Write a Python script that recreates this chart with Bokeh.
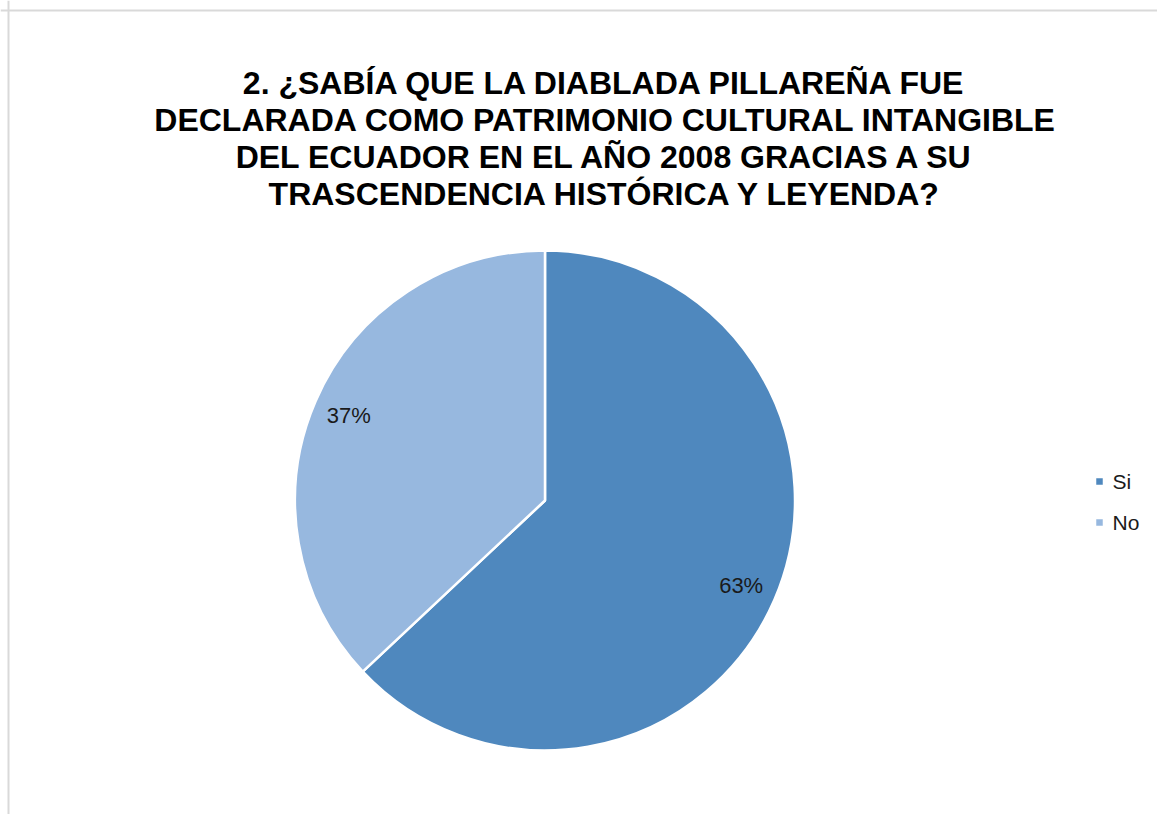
import math
from bokeh.plotting import figure
from bokeh.models import ColumnDataSource, Span
from bokeh.core.properties import value
from bokeh.embed import file_html
from bokeh.resources import INLINE

# ---- data ----
categories = ["Si", "No"]
percents = [63, 37]
colors = ["#4F88BE", "#97B8DF"]
title_lines = [
    "2. ¿SABÍA QUE LA DIABLADA PILLAREÑA FUE",
    "DECLARADA COMO PATRIMONIO CULTURAL INTANGIBLE",
    "DEL ECUADOR EN EL AÑO 2008 GRACIAS A SU",
    "TRASCENDENCIA HISTÓRICA Y LEYENDA?",
]

# ---- layout (pixel-like data units, y up) ----
W, H = 1157, 814
CX, CY, R = 544.5, 314, 250
FONT = "Liberation Sans"

p = figure(width=W, height=H, x_range=(0, W), y_range=(0, H),
           output_backend="svg", toolbar_location=None, min_border=0)
p.axis.visible = False
p.grid.visible = False
p.outline_line_color = None
p.background_fill_color = "white"
p.border_fill_color = "white"

# frame (top and left visible edges)
p.add_layout(Span(location=H - 10, dimension="width", line_color="#D9D9D9", line_width=2))
p.add_layout(Span(location=8, dimension="height", line_color="#D9D9D9", line_width=2))

# pie wedges, clockwise from 12 o'clock
total = sum(percents)
starts, ends, mids = [], [], []
a = math.pi / 2
for v in percents:
    da = 2 * math.pi * v / total
    starts.append(a)
    ends.append(a - da)
    mids.append(a - da / 2)
    a -= da
src = ColumnDataSource(dict(cat=categories, pct=percents, color=colors,
                            start=starts, end=ends))
p.wedge(x=CX, y=CY, radius=R, start_angle="end", end_angle="start",
        fill_color="color", line_color="white", line_width=2.5, source=src)

# data labels
lab = ColumnDataSource(dict(
    x=[CX + 0.855 * R * math.cos(m) for m in mids],
    y=[CY + 0.855 * R * math.sin(m) for m in mids],
    t=[f"{v}%" for v in percents]))
p.text(x="x", y="y", text="t", source=lab, text_align="center",
       text_baseline="middle", text_font=value(FONT), text_font_size="22px",
       text_color="#1a1a1a")

# title
TX, TY0, DY = 605, H - 82, 37
tsrc = ColumnDataSource(dict(x=[TX] * len(title_lines),
                             y=[TY0 - i * DY for i in range(len(title_lines))],
                             t=title_lines))
p.text(x="x", y="y", text="t", source=tsrc, text_align="center",
       text_baseline="middle", text_font=value(FONT), text_font_style="bold",
       text_font_size="32px", text_color="black")

# legend
LX, LY0, LDY = 1099, H - 481, 41
lsrc = ColumnDataSource(dict(x=[LX] * 2, y=[LY0 - i * LDY for i in range(2)],
                             tx=[LX + 13] * 2, t=categories, color=colors))
p.scatter(x="x", y="y", marker="square", size=6.5, fill_color="color",
          line_color=None, source=lsrc)
p.text(x="tx", y="y", text="t", source=lsrc, text_align="left",
       text_baseline="middle", text_font=value(FONT), text_font_size="21px",
       text_color="#1a1a1a")

open("out.html", "w").write(file_html(p, INLINE))
